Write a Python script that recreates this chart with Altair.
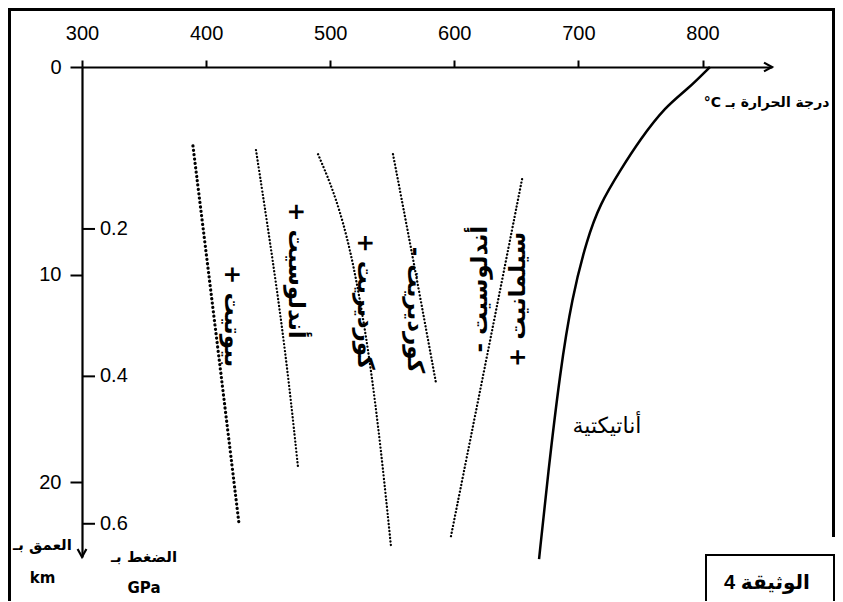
import altair as alt
import pandas as pd

# ---------------- data ----------------
temp_ticks = [300, 400, 500, 600, 700, 800]          # °C
depth_ticks = [0, 10, 20]                             # km
pressure_labels = ["0.2", "0.4", "0.6"]               # GPa
pressure_depth_km = [7.8, 14.9, 22.0]                 # where the GPa ticks sit on the depth axis
axis_end_t = 856
axis_end_d = 23.6

biotite_t = [389.4, 408.8, 426.5]
biotite_d = [3.8, 13.2, 22.0]
andalusite_in_t = [440.2, 462.0, 474.1]
andalusite_in_d = [4.0, 12.5, 19.3]
cordierite_in_t = [490.2, 513.5, 534.5, 549.0]
cordierite_in_d = [4.2, 7.5, 14.7, 23.1]
cordierite_out_t = [550.6, 566.7, 585.2]
cordierite_out_d = [4.2, 9.2, 15.2]
sillimanite_in_t = [654.6, 628.8, 597.3]
sillimanite_in_d = [5.4, 13.2, 22.6]
anatexis_t = [806.0, 787.5, 770.3, 749.6, 733.5, 717.4, 706.9, 694.8, 685.2, 675.5, 668.3]
anatexis_d = [0.0, 1.1, 1.9, 3.5, 5.0, 6.6, 8.3, 11.1, 14.7, 19.6, 23.7]

labels_cw = ["+ بيوتيت", "+ أندلوسيت", "+ كورديريت", "- كورديريت"]
labels_cw_t = [420.9, 472.4, 528.0, 568.3]
labels_cw_d = [12.0, 9.8, 11.3, 11.7]
labels_ccw = ["- أندلوسيت", "+ سيلمانيت"]
labels_ccw_t = [620.7, 651.3]
labels_ccw_d = [10.7, 11.2]
anatexis_label = ["أناتيكتية"]
anatexis_label_t = [723.0]
anatexis_label_d = [17.3]

x_title = "°C درجة الحرارة بـ"
y_title = ["العمق بـ", "km"]
p_title = ["الضغط بـ", "GPa"]
doc_label = "الوثيقة 4"

# ---------------- styling ----------------
NUM_FONT = "Liberation Sans Narrow, Liberation Sans, sans-serif"
AR_FONT = "DejaVu Sans, sans-serif"
W, H = 690, 490

X = alt.X(
    "t:Q",
    scale=alt.Scale(domain=[300, axis_end_t], nice=False, zero=False),
    axis=alt.Axis(
        orient="top", values=temp_ticks, format="d", grid=False,
        tickSize=7, tickWidth=2, tickColor="black",
        domainColor="black", domainWidth=2.2,
        labelFont=NUM_FONT, labelFontSize=20, labelColor="black", labelPadding=17,
        labelFlush=False, labelOverlap=False,
        title=x_title, titleFont=AR_FONT, titleFontSize=14, titleFontWeight="bold",
        titleColor="black", titleAngle=0, titleX=684, titleY=39,
        titleAlign="center", titleBaseline="alphabetic",
    ),
)
Y = alt.Y(
    "d:Q",
    scale=alt.Scale(domain=[0, axis_end_d], reverse=True, nice=False, zero=False),
    axis=alt.Axis(
        orient="left", values=depth_ticks, format="d", grid=False,
        tickSize=12, tickWidth=2, tickColor="black",
        domainColor="black", domainWidth=2.2,
        labelFont=NUM_FONT, labelFontSize=20, labelColor="black", labelPadding=9,
        labelFlush=False, labelOverlap=False,
        title=y_title, titleFont=AR_FONT, titleFontSize=15, titleFontWeight="bold",
        titleColor="black", titleAngle=0, titleX=-40, titleY=482,
        titleAlign="center", titleBaseline="alphabetic", titleLineHeight=33,
    ),
)


def isograd(ts, ds, width, dash):
    df = pd.DataFrame({"t": ts, "d": ds})
    return alt.Chart(df).mark_line(
        color="black", strokeWidth=width, strokeDash=dash, strokeCap="round",
        interpolate="basis",
    ).encode(x=X, y=Y, order="d:Q")


lines = [
    isograd(biotite_t, biotite_d, 3.2, [0.1, 4.3]),
    isograd(andalusite_in_t, andalusite_in_d, 2.3, [0.1, 3.4]),
    isograd(cordierite_in_t, cordierite_in_d, 2.3, [0.1, 3.4]),
    isograd(cordierite_out_t, cordierite_out_d, 2.3, [0.1, 3.4]),
    isograd(sillimanite_in_t, sillimanite_in_d, 2.3, [0.1, 3.4]),
]

anatexis = alt.Chart(pd.DataFrame({"t": anatexis_t, "d": anatexis_d})).mark_line(
    color="black", strokeWidth=2.5, interpolate="basis"
).encode(x=X, y=Y, order="d:Q")

lab_cw = alt.Chart(pd.DataFrame({"t": labels_cw_t, "d": labels_cw_d, "s": labels_cw})).mark_text(
    angle=90, align="center", baseline="middle", font=AR_FONT, fontSize=23,
    fontWeight="bold", color="black"
).encode(x=X, y=Y, text="s:N")

lab_ccw = alt.Chart(pd.DataFrame({"t": labels_ccw_t, "d": labels_ccw_d, "s": labels_ccw})).mark_text(
    angle=270, align="center", baseline="middle", font=AR_FONT, fontSize=23,
    fontWeight="bold", color="black"
).encode(x=X, y=Y, text="s:N")

lab_ana = alt.Chart(pd.DataFrame({"t": anatexis_label_t, "d": anatexis_label_d, "s": anatexis_label})).mark_text(
    align="center", baseline="middle", font=AR_FONT, fontSize=22, color="black"
).encode(x=X, y=Y, text="s:N")

pdf = pd.DataFrame({"d": pressure_depth_km, "lab": pressure_labels})
p_ticks = alt.Chart(pdf).mark_rule(color="black", strokeWidth=2).encode(
    y=Y, x=alt.value(0), x2=alt.value(13)
)
p_text = alt.Chart(pdf).mark_text(
    align="left", baseline="middle", font=NUM_FONT, fontSize=20, color="black"
).encode(y=Y, x=alt.value(18), text="lab:N")

one = pd.DataFrame({"k": [0]})
p_title_mark = alt.Chart(one).mark_text(
    align="center", baseline="alphabetic", font=AR_FONT, fontSize=15,
    fontWeight="bold", color="black", text=p_title, lineHeight=31
).encode(x=alt.value(62), y=alt.value(495))

x_arrow = alt.Chart(pd.DataFrame({"t": [axis_end_t], "d": [0]})).mark_point(
    shape="M-1,-0.55L0,0L-1,0.55", size=256, filled=False, strokeWidth=2.2,
    color="black", opacity=1
).encode(x=X, y=Y)
y_arrow = alt.Chart(pd.DataFrame({"t": [300], "d": [axis_end_d]})).mark_point(
    shape="M-0.55,-1L0,0L0.55,-1", size=256, filled=False, strokeWidth=2.2,
    color="black", opacity=1
).encode(x=X, y=Y)

frame_left = alt.Chart(one).mark_rule(color="black", strokeWidth=3).encode(
    x=alt.value(-72.5), y=alt.value(-57.5), y2=alt.value(560)
)
frame_top = alt.Chart(one).mark_rule(color="black", strokeWidth=3).encode(
    x=alt.value(-74), x2=alt.value(753), y=alt.value(-57.5)
)
frame_right = alt.Chart(one).mark_rule(color="black", strokeWidth=3).encode(
    x=alt.value(751.5), y=alt.value(-57.5), y2=alt.value(470)
)
doc_box = alt.Chart(one).mark_rect(fill="white", stroke="black", strokeWidth=2).encode(
    x=alt.value(624), x2=alt.value(752), y=alt.value(488), y2=alt.value(560)
)
doc_text = alt.Chart(one).mark_text(
    text=doc_label, align="center", baseline="middle", font="Liberation Sans, DejaVu Sans, sans-serif",
    fontSize=20, fontWeight="bold", color="black"
).encode(x=alt.value(685), y=alt.value(516))

chart = alt.layer(
    frame_left, frame_top, frame_right,
    *lines, anatexis, lab_cw, lab_ccw, lab_ana,
    p_ticks, p_text, p_title_mark, x_arrow, y_arrow,
    doc_box, doc_text,
).properties(
    width=W, height=H,
    padding={"left": 74, "top": 59, "right": 63, "bottom": 44},
    autosize=alt.AutoSizeParams(type="none"),
    background="white",
).configure_view(stroke=None)

chart.save("out.html", embed_options={"renderer": "svg", "actions": False})
